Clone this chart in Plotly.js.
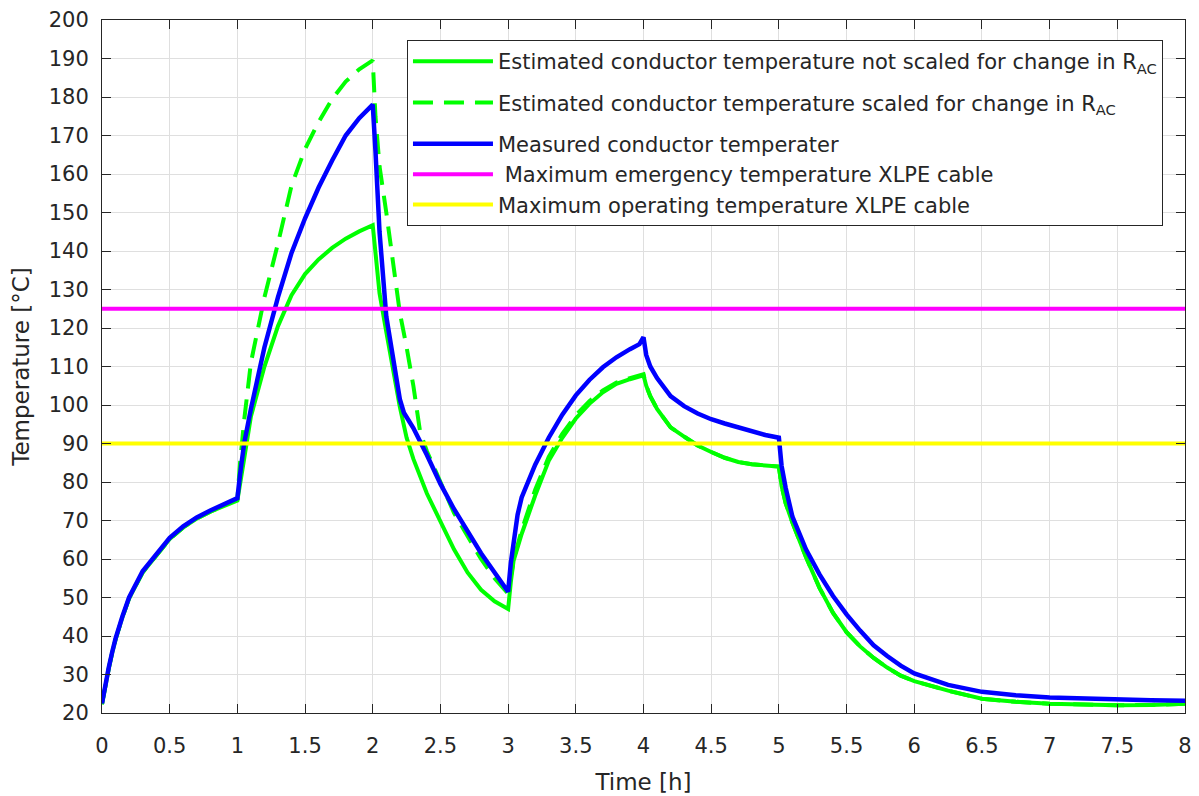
<!DOCTYPE html>
<html>
<head>
<meta charset="utf-8">
<script src="https://cdn.plot.ly/plotly-3.0.1.min.js"></script>
<style>html,body{margin:0;padding:0;background:#fff;}#chart{width:1199px;height:796px;}</style>
</head>
<body>
<div id="chart"></div>
<script>
// Time [h]
const tMeasured = [0,0.025,0.05,0.075,0.1,0.15,0.2,0.3,0.4,0.5,0.6,0.7,0.8,0.9,1.0,
  1.02,1.05,1.1,1.2,1.3,1.4,1.5,1.6,1.7,1.8,1.9,2.0,
  2.02,2.05,2.1,2.15,2.2,2.23,2.3,2.4,2.5,2.6,2.7,2.8,2.9,3.0,
  3.02,3.04,3.07,3.1,3.2,3.3,3.4,3.5,3.6,3.7,3.8,3.9,3.97,4.0,
  4.02,4.05,4.1,4.2,4.3,4.4,4.5,4.6,4.7,4.8,4.9,5.0,
  5.01,5.02,5.05,5.1,5.2,5.3,5.4,5.5,5.6,5.7,5.8,5.9,6.0,6.25,6.5,6.75,7.0,7.25,7.5,7.75,8.0];
const measured = [22.5,27.5,31.8,35.8,39.3,45,50,56.8,61.3,65.5,68.5,70.8,72.6,74.2,75.8,
  82,90,99,115,128,139.5,148.5,156.5,163.5,170,174.5,178,
  166,145,123,112,101.5,98,94,87,79.5,73,67,61.5,56.5,51.5,
  59,65,71.5,76,84.5,91.5,97.5,102.5,106.5,109.8,112.4,114.5,115.8,117.6,
  113,110,107,102.3,99.7,97.8,96.3,95.2,94.2,93.1,92.2,91.5,
  88,84.2,78.5,71,62.5,56,50.4,45.6,41.4,37.6,34.8,32.3,30.3,27.3,25.5,24.6,24,23.7,23.5,23.3,23.2];

const tNotScaled = [0,0.025,0.05,0.075,0.1,0.15,0.2,0.3,0.4,0.5,0.6,0.7,0.8,0.9,1.0,
  1.05,1.1,1.2,1.3,1.4,1.5,1.6,1.7,1.8,1.9,2.0,
  2.02,2.05,2.1,2.15,2.2,2.25,2.3,2.4,2.5,2.6,2.7,2.8,2.9,3.0,
  3.02,3.04,3.1,3.2,3.3,3.4,3.5,3.6,3.7,3.8,3.9,4.0,
  4.02,4.05,4.1,4.2,4.3,4.4,4.5,4.6,4.7,4.8,4.9,5.0,
  5.02,5.05,5.1,5.2,5.3,5.4,5.5,5.6,5.7,5.8,5.9,6.0,6.25,6.5,6.75,7.0,7.25,7.5,7.75,8.0];
const notScaled = [22.3,27.3,31.6,35.6,39.1,44.8,49.8,56.5,61,65.2,68.2,70.5,72.3,73.8,75.2,
  86,97,110,120.5,128.5,134,137.8,140.8,143.2,145.1,146.7,
  139,129,119,109,99.5,91.5,86,77,69.5,62.5,56.5,52,49,47,
  54,59.5,66.5,76.5,85.5,91.5,96.5,100.3,103.3,105.5,106.7,107.7,
  105,102.3,99,94.2,91.8,89.5,87.8,86.3,85.2,84.6,84.3,84,
  79,74.5,69.5,60.5,52.5,46,41,37.3,34.3,31.8,29.7,28.3,25.8,23.7,22.9,22.4,22.2,22,22.1,22.4];

const tScaled = [0,0.025,0.05,0.075,0.1,0.15,0.2,0.3,0.4,0.5,0.6,0.7,0.8,0.9,1.0,
  1.02,1.05,1.1,1.2,1.3,1.4,1.5,1.6,1.7,1.8,1.9,2.0,
  2.02,2.05,2.1,2.15,2.2,2.25,2.3,2.35,2.4,2.45,2.5,2.6,2.7,2.8,2.9,3.0,
  3.02,3.05,3.1,3.2,3.3,3.4,3.5,3.6,3.7,3.8,3.9,4.0,
  4.02,4.05,4.1,4.2,4.3,4.4,4.5,4.6,4.7,4.8,4.9,5.0,
  5.02,5.05,5.1,5.2,5.3,5.4,5.5,5.6,5.7,5.8,5.9,6.0,6.25,6.5,6.75,7.0,7.25,7.5,7.75,8.0];
const scaled = [22.3,27.3,31.6,35.6,39.1,44.8,49.8,56.5,61,65.2,68.2,70.5,72.3,73.8,75.5,
  85,96,111,128,142,157,166.5,173.5,179.5,184,187.2,189.5,
  175,162,150,137,124,115,105,93,88,84,80,72,66,60,55,51,
  55.5,61,67.5,78,86.5,92.5,97.3,101,103.8,105.8,107,108,
  105,102.3,99,94.2,91.8,89.5,87.8,86.3,85.2,84.6,84.3,84,
  79,74.5,69.5,60.5,52.5,46,41,37.3,34.3,31.8,29.7,28.3,25.8,23.7,22.9,22.4,22.2,22,22.1,22.4];

const limitT = [0, 8];
const emergencyLimit = [125, 125];
const operatingLimit = [90, 90];

const seriesNames = [
  'Estimated conductor temperature not scaled for change in R<sub>AC</sub>',
  'Estimated conductor temperature scaled for change in R<sub>AC</sub>',
  'Measured conductor temperater',
  '\u00A0Maximum emergency temperature XLPE cable',
  'Maximum operating temperature XLPE cable'
];

const FONT = 'DejaVu Sans, Arial, sans-serif';
const INK = '#262626';

const traces = [
  {x: tNotScaled, y: notScaled, name: seriesNames[0], legendgroup: 'a', mode: 'lines', line: {color: '#00ff00', width: 4}},
  {x: tScaled, y: scaled, name: seriesNames[1], legendgroup: 'b', mode: 'lines', line: {color: '#00ff00', width: 4, dash: '20px,11px'}},
  {x: tMeasured, y: measured, name: seriesNames[2], legendgroup: 'c', mode: 'lines', line: {color: '#0000ff', width: 4.5}},
  {x: limitT, y: emergencyLimit, name: seriesNames[3], legendgroup: 'c', mode: 'lines', line: {color: '#ff00ff', width: 4}},
  {x: limitT, y: operatingLimit, name: seriesNames[4], legendgroup: 'c', mode: 'lines', line: {color: '#ffff00', width: 4}}
];

const axisCommon = {
  showline: true, linecolor: INK, linewidth: 1, mirror: 'ticks',
  ticks: 'inside', ticklen: 9, tickwidth: 1, tickcolor: INK,
  showgrid: true, gridcolor: '#dfdfdf', gridwidth: 1, zeroline: false,
  tickfont: {family: FONT, size: 21, color: INK},
  automargin: false
};

const layout = {
  width: 1199, height: 796,
  margin: {l: 102, r: 14, t: 20, b: 83},
  paper_bgcolor: '#ffffff', plot_bgcolor: '#ffffff',
  showlegend: true,
  xaxis: Object.assign({}, axisCommon, {
    range: [0, 8], dtick: 0.5, tick0: 0,
    ticklabelstandoff: 14,
    title: {text: 'Time [h]', font: {family: FONT, size: 23, color: INK}, standoff: 16}
  }),
  yaxis: Object.assign({}, axisCommon, {
    range: [20, 200], dtick: 10, tick0: 20,
    ticklabelstandoff: 8,
    title: {text: 'Temperature [°C]', font: {family: FONT, size: 23, color: INK}, standoff: 12}
  }),
  legend: {
    x: 0.2816, y: 0.971, xanchor: 'left', yanchor: 'top',
    bgcolor: '#ffffff', bordercolor: INK, borderwidth: 1,
    font: {family: FONT, size: 21, color: INK},
    itemwidth: 80, tracegroupgap: 11, traceorder: 'grouped'
  }
};

Plotly.newPlot('chart', traces, layout, {staticPlot: true, displayModeBar: false});
</script>
</body>
</html>
